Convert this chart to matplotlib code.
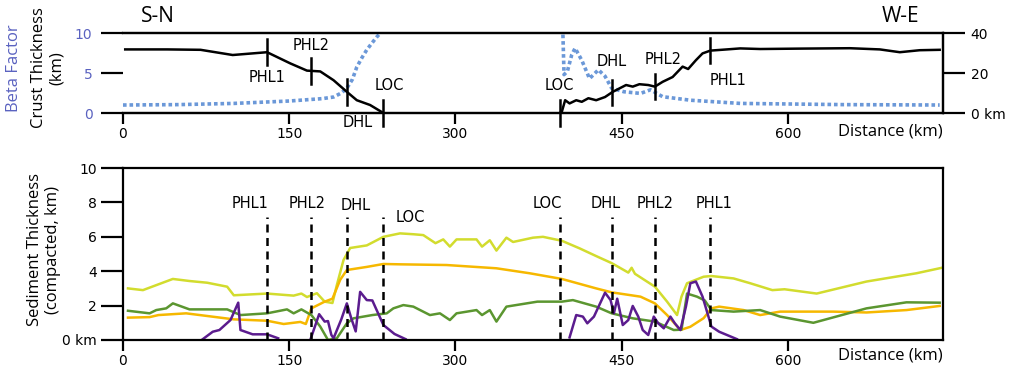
import numpy as np
import matplotlib
matplotlib.use("Agg")
import matplotlib.pyplot as plt

# ---------------- data ----------------
# top panel: beta factor (left axis, 0-10)
beta_sn_km = [0, 50, 100, 150, 180, 190, 197, 202, 207, 211, 216, 220, 225, 229, 231]
beta_sn = [1.0, 1.05, 1.2, 1.5, 1.8, 2.0, 2.5, 3.1, 4.2, 5.75, 7.0, 7.9, 8.8, 9.5, 9.8]
beta_we_km = [397, 398, 401, 405, 408, 414, 421, 429, 435, 441, 452, 467, 476, 487, 512, 557, 650, 737]
beta_we = [9.8, 4.8, 5.2, 7.3, 8.1, 6.6, 4.3, 5.4, 4.6, 3.1, 2.66, 2.45, 2.9, 2.04, 1.6, 1.2, 1.05, 1.0]

# top panel: crust thickness (right axis, km)
crust_sn_km = [2, 40, 70, 99, 130, 151, 166, 178, 190, 202, 211, 223, 235]
crust_sn = [31.8, 31.8, 31.6, 29.0, 30.4, 24.8, 21.2, 20.8, 16.4, 10.6, 6.4, 4.0, 0.0]
crust_we_km = [394, 396, 399, 403, 409, 414, 420, 427, 435, 442, 448, 454, 460, 466, 474, 480,
               487, 496, 505, 510, 517, 523, 530, 545, 557, 575, 611, 656, 683, 701, 719, 737]
crust_we = [0.0, 0.6, 6.4, 4.8, 6.4, 5.6, 7.4, 6.4, 8.0, 10.6, 12.3, 14.0, 13.2, 14.4, 14.0, 13.2,
            15.6, 18.0, 23.2, 22.0, 26.4, 29.8, 31.2, 31.8, 32.3, 32.0, 32.2, 32.4, 31.8, 30.4, 31.4, 31.6]

# boundary markers
markers_sn_km = [130, 170, 202, 235]
markers_we_km = [394, 441, 480, 530]

# bottom panel: sediment thickness (compacted, km)
yg_km = [4.5, 18, 45, 60, 76, 94, 100, 130, 154, 161, 166, 175, 182, 189, 193, 199, 205, 220, 235,
         250, 262, 271, 282, 289, 295, 301, 319, 324, 331, 337, 346, 352, 370, 379, 396, 412, 427,
         441, 456, 459, 462, 480, 491, 500, 504, 509, 524, 531, 551, 566, 586, 597, 626, 671, 716, 739]
yg = [3.0, 2.9, 3.55, 3.43, 3.33, 3.1, 2.6, 2.7, 2.58, 2.7, 2.5, 2.72, 2.23, 2.15, 3.2, 4.65, 5.35,
      5.5, 6.0, 6.2, 6.15, 6.1, 5.63, 5.85, 5.43, 5.85, 5.85, 5.43, 5.8, 5.2, 5.95, 5.7, 5.95, 6.0,
      5.77, 5.33, 4.88, 4.47, 3.92, 4.2, 3.85, 3.1, 2.23, 1.45, 2.52, 3.3, 3.68, 3.72, 3.58, 3.3, 2.9,
      2.95, 2.7, 3.4, 3.88, 4.2]

gold_km = [4.5, 24, 32, 57, 100, 130, 145, 160, 165, 170, 182, 189, 196, 202, 220, 235, 250, 292,
           337, 367, 396, 427, 441, 467, 480, 491, 503, 512, 524, 531, 538, 560, 575, 593, 641, 671,
           707, 737]
gold = [1.3, 1.33, 1.45, 1.55, 1.2, 1.12, 0.93, 1.05, 0.93, 1.84, 2.23, 2.4, 3.5, 4.07, 4.25, 4.42,
        4.4, 4.36, 4.17, 3.88, 3.55, 3.0, 2.77, 2.52, 2.13, 1.45, 0.58, 0.77, 1.27, 1.84, 1.94, 1.74,
        1.45, 1.65, 1.65, 1.6, 1.74, 1.98]

green_km = [4.5, 24, 30, 39, 45, 60, 94, 106, 130, 148, 154, 161, 170, 178, 185, 193, 202, 208, 225,
            238, 244, 253, 262, 277, 286, 295, 301, 319, 324, 331, 337, 346, 374, 396, 406, 427, 441,
            460, 480, 497, 504, 509, 518, 525, 531, 551, 575, 593, 623, 671, 707, 737]
green = [1.7, 1.55, 1.74, 1.84, 2.13, 1.78, 1.78, 1.45, 1.55, 1.78, 1.55, 1.78, 1.45, 0.78, 0.0, 0.1,
         0.97, 1.26, 1.45, 1.55, 1.84, 2.03, 1.94, 1.45, 1.55, 1.16, 1.55, 1.74, 1.45, 1.74, 1.07,
         1.94, 2.23, 2.23, 2.32, 1.94, 1.55, 1.26, 1.07, 0.58, 0.6, 2.7, 2.52, 2.3, 1.74, 1.65, 1.74,
         1.36, 1.0, 1.84, 2.19, 2.17]

purple_a_km = [71, 81, 87, 97, 104, 106, 117, 130, 140]
purple_a = [0.0, 0.48, 0.58, 1.16, 2.17, 0.58, 0.33, 0.33, 0.1]
purple_b_km = [169, 177, 182, 185, 188, 190, 197, 202, 206, 210, 214, 220, 225, 235, 245, 255]
purple_b = [0.0, 1.5, 1.07, 1.1, 0.3, 0.1, 1.2, 2.13, 1.26, 0.5, 2.8, 2.32, 2.3, 0.87, 0.35, 0.05]
purple_c_km = [403, 409, 415, 419, 425, 435, 440, 443, 446, 451, 456, 460, 465, 469, 474, 479, 483,
               488, 494, 498, 503, 508, 512, 517, 523, 531, 538, 554]
purple_c = [0.15, 1.45, 1.36, 0.97, 1.36, 2.75, 2.32, 1.55, 2.4, 0.87, 1.16, 1.98, 1.36, 0.58, 0.29,
            1.36, 0.97, 0.68, 1.36, 0.97, 0.58, 1.94, 3.3, 3.4, 2.52, 0.78, 0.48, 0.05]

x_ticks = [0, 150, 300, 450, 600]
sed_ticks = [0, 2, 4, 6, 8, 10]
sed_tick_labels = ["0 km", "2", "4", "6", "8", "10"]
beta_ticks = [0, 5, 10]
crust_ticks = [0, 20, 40]
crust_tick_labels = ["0 km", "20", "40"]

# ---------------- style ----------------
C_YG = "#d2dc2e"
C_GOLD = "#f6b800"
C_GREEN = "#5b9630"
C_PURPLE = "#5b1c8e"
C_BETA = "#6b98d8"
C_BLUE_TXT = "#5a62c0"
XMAX = 740
W, H = 1009, 373

plt.rcParams["font.family"] = ["DejaVu Sans"]

fig = plt.figure(figsize=(10.09, 3.73), dpi=100)
ax_top = fig.add_axes([0.1219, 0.697, 0.8127, 0.2145])
ax_cr = ax_top.twinx()
ax_bot = fig.add_axes([0.1219, 0.0885, 0.8127, 0.461])


def ftext(x, y, s, **kw):
    fig.text(x / W, 1 - y / H, s, ha="center", va="center", **kw)


# ---- top panel ----
for ax in (ax_top, ax_cr):
    ax.set_xlim(0, XMAX)
    ax.patch.set_visible(False)
ax_top.set_ylim(0, 10)
ax_cr.set_ylim(0, 40)
ax_top.spines["left"].set_visible(False)
ax_cr.spines["left"].set_visible(False)
for sp in ("top", "bottom", "right"):
    ax_top.spines[sp].set_linewidth(1.6)
    ax_cr.spines[sp].set_linewidth(1.6)

ax_top.plot(beta_sn_km, beta_sn, color=C_BETA, lw=2.6, ls=(0, (1, 0.8)), clip_on=False)
ax_top.plot(beta_we_km, beta_we, color=C_BETA, lw=2.6, ls=(0, (1, 0.8)), clip_on=False)
ax_cr.plot(crust_sn_km, crust_sn, color="black", lw=1.8)
ax_cr.plot(crust_we_km, crust_we, color="black", lw=1.8)

half = 6.4
for xs, cx, cy in ((markers_sn_km, crust_sn_km, crust_sn), (markers_we_km, crust_we_km, crust_we)):
    for m in xs:
        c = np.interp(m, cx, cy)
        ax_cr.plot([m, m], [c - half, c + half], color="black", lw=1.8, clip_on=False)

ax_top.set_yticks(beta_ticks)
ax_top.set_yticklabels([str(t) for t in beta_ticks], color=C_BLUE_TXT, fontsize=10)
ax_top.tick_params(axis="y", length=16, width=1.6, direction="out", pad=6)
ax_cr.set_yticks(crust_ticks)
ax_cr.set_yticklabels(crust_tick_labels, fontsize=10)
ax_cr.tick_params(axis="y", length=16, width=1.6, direction="out", pad=4)
ax_top.set_xticks(x_ticks)
ax_top.set_xticklabels([str(t) for t in x_ticks], fontsize=10)
ax_top.tick_params(axis="x", length=8, width=1.6, direction="out", pad=2)

top_lbl = {"PHL1": [(130, 4.5), (546, 4.1)], "PHL2": [(170, 8.5), (487, 6.7)],
           "DHL": [(212, -1.15), (441, 6.4)], "LOC": [(240, 3.5), (394, 3.4)]}
for name, pts in top_lbl.items():
    for (x, y) in pts:
        ax_top.text(x, y, name, ha="center", va="center", fontsize=10.5, clip_on=False)

ftext(890, 131, "Distance (km)", fontsize=12, family="Open Sans")
ftext(158, 16, "S-N", fontsize=15, family="Open Sans")
ftext(900, 16, "W-E", fontsize=15, family="Open Sans")
ftext(14, 68, "Beta Factor", rotation=90, color=C_BLUE_TXT, fontsize=12, family="Open Sans")
ftext(48, 68, "Crust Thickness\n(km)", rotation=90, fontsize=12, family="Open Sans", linespacing=1.1)

# ---- bottom panel ----
ax_bot.set_xlim(0, XMAX)
ax_bot.set_ylim(0, 10)
for sp in ax_bot.spines.values():
    sp.set_linewidth(1.6)
ax_bot.plot(yg_km, yg, color=C_YG, lw=1.8)
ax_bot.plot(gold_km, gold, color=C_GOLD, lw=1.8)
ax_bot.plot(green_km, green, color=C_GREEN, lw=1.8)
for xk, yv in ((purple_a_km, purple_a), (purple_b_km, purple_b), (purple_c_km, purple_c)):
    ax_bot.plot(xk, yv, color=C_PURPLE, lw=1.8)

for m in markers_sn_km + markers_we_km:
    ax_bot.plot([m, m], [0, 7.15], color="black", lw=1.8, ls=(0, (3.2, 2.2)))

bot_lbl = [("PHL1", 115, 7.95), ("PHL2", 166, 7.95), ("DHL", 210, 7.85), ("LOC", 259, 7.1),
           ("LOC", 383, 7.95), ("DHL", 436, 7.95), ("PHL2", 480, 7.95), ("PHL1", 533, 7.95)]
for name, x, y in bot_lbl:
    ax_bot.text(x, y, name, ha="center", va="center", fontsize=10.5)

ax_bot.set_yticks(sed_ticks)
ax_bot.set_yticklabels(sed_tick_labels, fontsize=10)
ax_bot.tick_params(axis="y", length=16, width=1.6, direction="out", pad=3)
ax_bot.set_xticks(x_ticks)
ax_bot.set_xticklabels([str(t) for t in x_ticks], fontsize=10)
ax_bot.tick_params(axis="x", length=8, width=1.6, direction="out", pad=2)
ftext(890, 355, "Distance (km)", fontsize=12, family="Open Sans")
ftext(44, 250, "Sediment Thickness\n(compacted, km)", rotation=90, fontsize=12,
      family="Open Sans", linespacing=1.1)

fig.savefig("out.png", dpi=100)
